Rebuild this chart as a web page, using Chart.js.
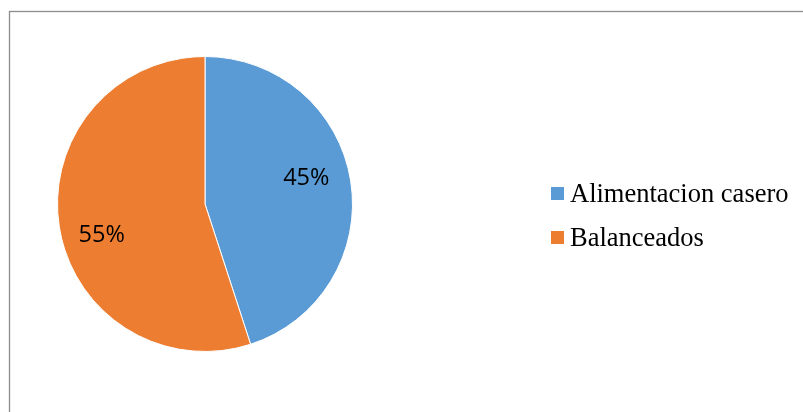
<!DOCTYPE html>
<html>
<head>
<meta charset="utf-8">
<script src="https://cdn.jsdelivr.net/npm/chart.js@4/dist/chart.umd.min.js"></script>
<style>
  html, body { margin: 0; padding: 0; background: #ffffff; }
  #wrap { position: relative; width: 803px; height: 412px; }
</style>
</head>
<body>
<div id="wrap"><canvas id="c" width="803" height="412"></canvas></div>
<script>
// Feeding type shares
const categories = ['Alimentacion casero', 'Balanceados'];
const shares = [45, 55];
const labelsText = ['45%', '55%'];
const colors = ['#5B9BD5', '#ED7D31'];

// Outer frame around the chart
const framePlugin = {
  id: 'frame',
  beforeDraw(chart) {
    const ctx = chart.ctx;
    ctx.save();
    ctx.fillStyle = '#ffffff';
    ctx.fillRect(0, 0, chart.width, chart.height);
    ctx.strokeStyle = '#8c8c8c';
    ctx.lineWidth = 1.3;
    ctx.strokeRect(9.5, 11.5, 1000, 600);
    ctx.restore();
  }
};

// Percentage labels inside each slice
const sliceLabels = {
  id: 'sliceLabels',
  afterDatasetsDraw(chart) {
    const ctx = chart.ctx;
    const meta = chart.getDatasetMeta(0);
    ctx.save();
    ctx.font = '23.5px "Open Sans", "Liberation Sans", sans-serif';
    ctx.fillStyle = '#000000';
    ctx.textAlign = 'center';
    ctx.textBaseline = 'middle';
    meta.data.forEach((arc, i) => {
      const p = arc.getProps(['x', 'y', 'startAngle', 'endAngle', 'outerRadius'], true);
      const mid = (p.startAngle + p.endAngle) / 2 - 0.115;
      const r = p.outerRadius * 0.72;
      ctx.fillText(labelsText[i], p.x + Math.cos(mid) * r - 1, p.y + Math.sin(mid) * r + 3);
    });
    ctx.restore();
  }
};

// Legend on the right
const sideLegend = {
  id: 'sideLegend',
  afterDraw(chart) {
    const ctx = chart.ctx;
    const ds = chart.data.datasets[0];
    ctx.save();
    ctx.font = '26.5px "Liberation Serif", "Times New Roman", serif';
    ctx.textBaseline = 'alphabetic';
    ctx.textAlign = 'left';
    chart.data.labels.forEach((lab, i) => {
      const baseY = 202 + i * 44;
      ctx.fillStyle = ds.backgroundColor[i];
      ctx.fillRect(551, baseY - 15, 13, 13);
      ctx.fillStyle = '#000000';
      ctx.fillText(lab, 570, baseY);
    });
    ctx.restore();
  }
};

new Chart(document.getElementById('c'), {
  type: 'pie',
  data: {
    labels: categories,
    datasets: [{
      data: shares,
      backgroundColor: colors,
      borderColor: '#ffffff',
      borderWidth: 1
    }]
  },
  options: {
    responsive: false,
    animation: false,
    layout: { padding: { left: 57, right: 450, top: 56, bottom: 60 } },
    plugins: {
      legend: { display: false },
      tooltip: { enabled: false }
    }
  },
  plugins: [framePlugin, sliceLabels, sideLegend]
});
</script>
</body>
</html>
